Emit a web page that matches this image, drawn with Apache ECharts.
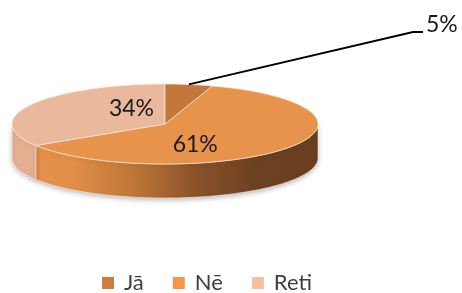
<!DOCTYPE html>
<html><head><meta charset="utf-8">
<script src="https://cdn.jsdelivr.net/npm/echarts@6/dist/echarts.min.js"></script>
<style>html,body{margin:0;padding:0;background:#fff}#c{width:462px;height:293px}</style>
</head><body><div id="c"></div>
<script>
// ---- data ----
const categories = ['Jā', 'Nē', 'Reti'];
const values = [5, 61, 34];
const labelTexts = ['5%', '61%', '34%'];
// ---- styles ----
const topColors = ['#C4773A', '#E8934B', '#E9B89D'];
const legendColors = ['#CC7E3E', '#F79646', '#F9C0A0'];
const sideStops = [
  ['#B06A32', '#B06A32', '#7A4522', '#5E3519'],
  ['#E8934B', '#E28E48', '#BE7638', '#8C522A', '#6C4021', '#6A3F20'],
  ['#E4AE91', '#E4AE91', '#C99478', '#A87A60']
];

const total = values.reduce((a, b) => a + b, 0);
const starts = [];
let acc = 0;
values.forEach(v => { starts.push(acc / total * 360); acc += v; });

const G = { cx: 165, cy: 124, rx: 153, ry: 40, depth: 34 };
function pt(deg, dy) {
  const r = deg * Math.PI / 180;
  return [G.cx + G.rx * Math.sin(r), G.cy - G.ry * Math.cos(r) + (dy || 0)];
}
function arc(a0, a1, dy) {
  const pts = [];
  const n = Math.max(2, Math.ceil(Math.abs(a1 - a0) / 2));
  for (let i = 0; i <= n; i++) pts.push(pt(a0 + (a1 - a0) * i / n, dy));
  return pts;
}

function makeRender(i) {
  return function (params, api) {
    const v = api.value(0);
    const a0 = starts[i];
    const a1 = a0 + v / total * 360;
    const children = [];
    // side face (front half only: 90..270)
    const s = Math.max(a0, 90), e = Math.min(a1, 270);
    if (e > s) {
      const st = sideStops[i];
      const stops = st.map((c, k) => ({ offset: k / (st.length - 1), color: c }));
      children.push({
        type: 'polygon',
        shape: { points: arc(s, e, 0).concat(arc(e, s, G.depth)) },
        style: {
          fill: new echarts.graphic.LinearGradient(G.cx - G.rx, 0, G.cx + G.rx, 0, stops, true),
          stroke: 'rgba(255,240,230,0.7)', lineWidth: 0.8,
          shadowColor: 'rgba(0,0,0,0.25)', shadowBlur: 5, shadowOffsetY: 2
        },
        z2: 1
      });
    }
    // top face
    children.push({
      type: 'polygon',
      shape: { points: [[G.cx, G.cy]].concat(arc(a0, a1, 0)) },
      style: { fill: topColors[i], stroke: 'rgba(255,235,220,0.85)', lineWidth: 0.8 },
      z2: 5
    });
    // label
    const mid = (a0 + a1) / 2;
    const mr = mid * Math.PI / 180;
    const share = v / total;
    if (share < 0.1) {
      const p0 = pt(mid, 0);
      children.push({
        type: 'polyline',
        shape: { points: [p0, [413, 32], [423, 32]] },
        style: { stroke: '#000', lineWidth: 1.8, fill: null },
        z2: 10
      });
      children.push({
        type: 'text',
        style: { text: labelTexts[i], x: 426, y: 25, fill: '#1a1a1a',
          font: '23px Lato', align: 'left', verticalAlign: 'middle' },
        z2: 10
      });
    } else {
      children.push({
        type: 'text',
        style: { text: labelTexts[i],
          x: G.cx + G.rx * 0.25 * Math.sin(mr),
          y: G.cy - G.ry * 0.82 * Math.cos(mr),
          fill: '#1a1a1a', font: '23px Lato', align: 'center', verticalAlign: 'middle' },
        z2: 10
      });
    }
    return { type: 'group', children: children };
  };
}

const series = categories.map((name, i) => ({
  type: 'custom',
  name: name,
  coordinateSystem: 'none',
  data: [[values[i]]],
  itemStyle: { color: legendColors[i] },
  renderItem: makeRender(i),
  z: i === 0 ? 3 : 2
}));

const chart = echarts.init(document.getElementById('c'), null, { renderer: 'canvas' });
chart.setOption({
  animation: false,
  backgroundColor: '#fff',
  legend: {
    data: categories,
    left: 102, top: 272, padding: 0,
    icon: 'rect', itemWidth: 12, itemHeight: 12, itemGap: 29,
    textStyle: { fontFamily: 'Lato', fontSize: 22, color: '#404040', padding: [0, 0, 0, 5] }
  },
  series: series
});
</script></body></html>
